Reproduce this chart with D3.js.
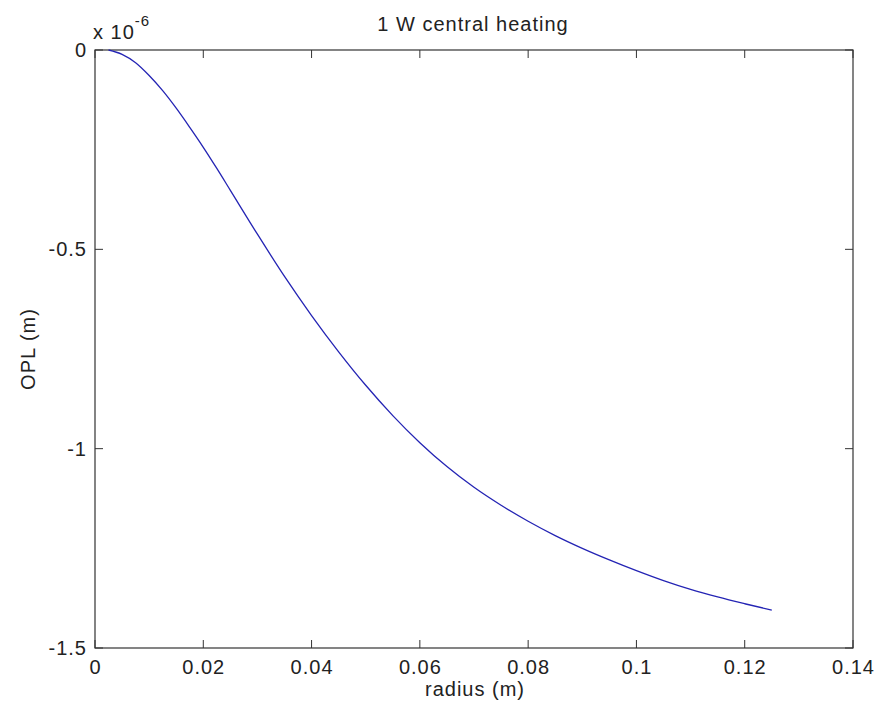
<!DOCTYPE html>
<html><head><meta charset="utf-8">
<script src="https://cdn.jsdelivr.net/npm/d3@7"></script>
<style>
body{margin:0;background:#fff;}
text{font-family:"Liberation Sans",Arial,sans-serif;fill:#222;letter-spacing:1px;}
</style></head>
<body><svg id="c" width="877" height="713"></svg>
<script>
const radius = [0.0025,0.005,0.0075,0.010,0.0125,0.015,0.0175,0.020,0.0225,0.025,0.030,0.035,0.040,0.045,0.050,0.055,0.060,0.065,0.070,0.075,0.080,0.085,0.090,0.095,0.100,0.105,0.110,0.115,0.120,0.125];
const opl = [0,-0.011,-0.032,-0.064,-0.102,-0.146,-0.194,-0.244,-0.297,-0.352,-0.462,-0.568,-0.666,-0.757,-0.841,-0.917,-0.985,-1.045,-1.097,-1.142,-1.182,-1.218,-1.250,-1.279,-1.306,-1.331,-1.353,-1.372,-1.389,-1.405];
const xTicks = [0,0.02,0.04,0.06,0.08,0.1,0.12,0.14];
const xTickLabels = ["0","0.02","0.04","0.06","0.08","0.1","0.12","0.14"];
const yTicks = [0,-0.5,-1,-1.5];
const yTickLabels = ["0","-0.5","-1","-1.5"];

const svg = d3.select("#c");
const L=95,R=853,T=50,B=648;
const x = d3.scaleLinear().domain([0,0.14]).range([L,R]);
const y = d3.scaleLinear().domain([-1.5,0]).range([B,T]);
const fs = 20;
const axisColor = "#333";

const g = svg.append("g");
const tl = 8;
xTicks.forEach(t=>{
  g.append("line").attr("x1",x(t)).attr("x2",x(t)).attr("y1",B).attr("y2",B-tl).attr("stroke",axisColor);
  g.append("line").attr("x1",x(t)).attr("x2",x(t)).attr("y1",T).attr("y2",T+tl).attr("stroke",axisColor);
});
yTicks.forEach(t=>{
  g.append("line").attr("x1",L).attr("x2",L+tl).attr("y1",y(t)).attr("y2",y(t)).attr("stroke",axisColor);
  g.append("line").attr("x1",R).attr("x2",R-tl).attr("y1",y(t)).attr("y2",y(t)).attr("stroke",axisColor);
});
g.append("rect").attr("x",L).attr("y",T).attr("width",R-L).attr("height",B-T)
  .attr("fill","none").attr("stroke",axisColor).attr("stroke-width",1.2);

xTicks.forEach((t,i)=>{
  svg.append("text").attr("x",x(t)+0.5).attr("y",B+26).attr("text-anchor","middle")
    .attr("font-size",fs).text(xTickLabels[i]);
});
yTicks.forEach((t,i)=>{
  svg.append("text").attr("x",L-8).attr("y",y(t)+7).attr("text-anchor","end")
    .attr("font-size",fs).text(yTickLabels[i]);
});

const ex = svg.append("text").attr("x",93).attr("y",39).attr("font-size",fs);
ex.append("tspan").text("x 10");
ex.append("tspan").attr("dy",-13).attr("font-size",15).text("-6");

svg.append("text").attr("x",473).attr("y",31).attr("text-anchor","middle").attr("font-size",fs).text("1 W central heating");
svg.append("text").attr("x",475).attr("y",696).attr("text-anchor","middle").attr("font-size",fs).text("radius (m)");
svg.append("text").attr("transform","translate(35,349) rotate(-90)").attr("text-anchor","middle").attr("font-size",fs).text("OPL (m)");

const line = d3.line().x((d,i)=>x(radius[i])).y(d=>y(d)).curve(d3.curveMonotoneX);
svg.append("path").datum(opl).attr("d",line).attr("fill","none").attr("stroke","#2424b4").attr("stroke-width",1.3);
</script></body></html>
